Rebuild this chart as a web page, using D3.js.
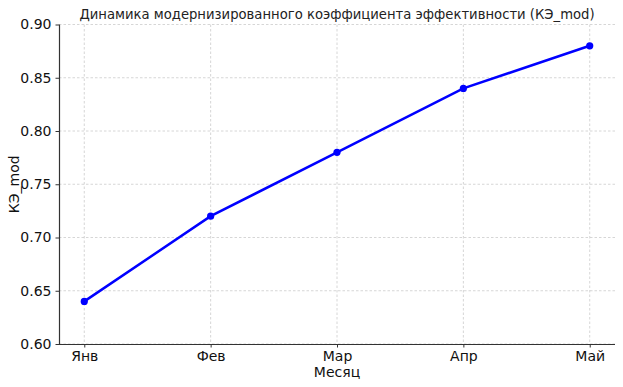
<!DOCTYPE html>
<html><head><meta charset="utf-8">
<script src="https://cdn.jsdelivr.net/npm/d3@7"></script>
<style>body{margin:0;background:#fff}svg{display:block}text{font-family:"DejaVu Sans",sans-serif}</style>
</head><body><svg id="c" width="623" height="387"></svg>
<script>
const months = ["Янв","Фев","Мар","Апр","Май"];
const values = [0.64,0.72,0.78,0.84,0.88];
const yTicks = [0.60,0.65,0.70,0.75,0.80,0.85,0.90];
const title = "Динамика модернизированного коэффициента эффективности (КЭ_mod)";
const xTitle = "Месяц";
const yTitle = "КЭ_mod";

const svg = d3.select("#c");
const L=59, R=615, T=24.5, B=344;
const xs = d3.scalePoint().domain(months).range([L+(R-L)*0.05/1.1, R-(R-L)*0.05/1.1]);
const y = d3.scaleLinear().domain([0.60,0.90]).range([B,T]);

const g = svg.append("g");
g.selectAll("line.h").data(yTicks).join("line")
 .attr("x1",L).attr("x2",R).attr("y1",d=>y(d)).attr("y2",d=>y(d))
 .attr("stroke","#cccccc").attr("stroke-width",0.8).attr("stroke-dasharray","2.5,2");
g.selectAll("line.v").data(months).join("line")
 .attr("x1",d=>xs(d)).attr("x2",d=>xs(d)).attr("y1",T).attr("y2",B)
 .attr("stroke","#cccccc").attr("stroke-width",0.8).attr("stroke-dasharray","2.5,2");

const ax = svg.append("g").attr("transform",`translate(0,${B})`)
 .call(d3.axisBottom(xs).tickSize(3.5).tickPadding(4));
const ay = svg.append("g").attr("transform",`translate(${L},0)`)
 .call(d3.axisLeft(y).tickValues(yTicks).tickFormat(d3.format(".2f")).tickSize(3.5).tickPadding(4));
[ax,ay].forEach(a=>{
  a.select(".domain").attr("stroke","#333").attr("stroke-width",1.2);
  a.selectAll(".tick line").attr("stroke","#333").attr("stroke-width",1);
  a.selectAll(".tick text").attr("fill","#111").style("font-size","14px").style("font-family","DejaVu Sans");
});
ax.select(".domain").attr("d",`M${L},0.5H${R}`);
ay.select(".domain").attr("d",`M0.5,${B}V${T}`);

svg.append("path").datum(values)
 .attr("fill","none").attr("stroke","#0000ff").attr("stroke-width",2.5)
 .attr("d",d3.line().x((d,i)=>xs(months[i])).y(d=>y(d)));
svg.selectAll("circle").data(values).join("circle")
 .attr("cx",(d,i)=>xs(months[i])).attr("cy",d=>y(d)).attr("r",3.6).attr("fill","#0000ff");

svg.append("text").attr("x",(L+R)/2).attr("y",19).attr("text-anchor","middle")
 .style("font-size","13.2px").attr("fill","#222").text(title);
svg.append("text").attr("x",(L+R)/2).attr("y",377).attr("text-anchor","middle")
 .style("font-size","14px").attr("fill","#111").text(xTitle);
svg.append("text").attr("transform",`translate(19,${(T+B)/2}) rotate(-90)`).attr("text-anchor","middle")
 .style("font-size","14px").attr("fill","#111").text(yTitle);
</script></body></html>
